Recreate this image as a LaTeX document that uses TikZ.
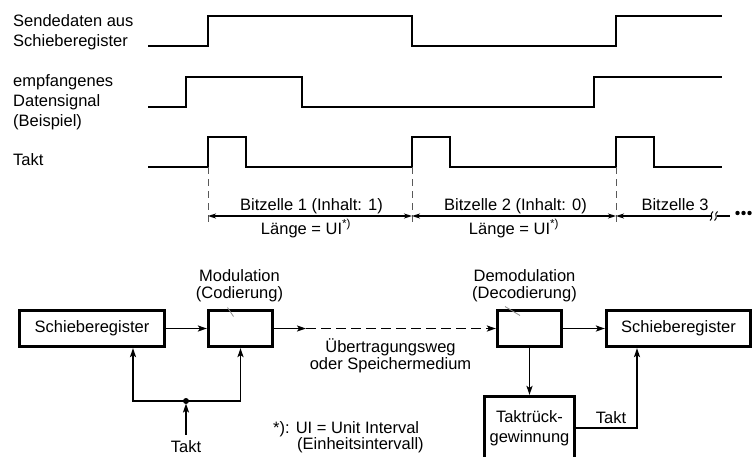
\documentclass[tikz,border=0pt]{standalone}
\usepackage{fontspec}
\setmainfont{Liberation Sans}
\usetikzlibrary{arrows.meta}
\newcommand\lblfont{\fontsize{16.5}{20}\selectfont}
\newcommand\lblfontnarrow{\fontsize{16.5}{17.5}\selectfont}

\begin{document}
\begin{tikzpicture}[x=1pt,y=-1pt,
  dimtip/.tip={Stealth[length=8pt,width=5pt,inset=2.5pt]},
  contip/.tip={Stealth[length=9pt,width=6pt,inset=2pt]},
  txt/.style={font=\lblfont, inner sep=0pt},
  sig/.style={line width=2.4pt, line join=miter},
  cellmark/.style={black!65, line width=1pt, dash pattern=on 7pt off 5pt},
  dimline/.style={line width=1.2pt},
  blk/.style={draw, line width=3.2pt, font=\lblfont, inner sep=0pt, minimum height=36pt},
  conn/.style={line width=1.6pt, -contip},
  leader/.style={black!45, line width=0.8pt}
]
\clip (0,0) rectangle (754,456);

% ---------------- timing diagram ----------------
\node[txt, align=left, anchor=north west] (l1) at (13,14.5) {Sendedaten aus\\Schieberegister};
\node[txt, align=left, anchor=north west] (l2) at (13,74) {empfangenes\\Datensignal\\(Beispiel)};
\node[txt, anchor=north west] (l3) at (13,153) {Takt};

% transmitted data
\draw[sig] (148,46) -- (208,46) -- (208,16) -- (412,16) -- (412,46)
  -- (616,46) -- (616,16) -- (722,16);
% received signal
\draw[sig] (148,107) -- (186,107) -- (186,77) -- (302,77) -- (302,107)
  -- (594,107) -- (594,77) -- (722,77);
% clock
\draw[sig] (148,167) -- (208,167) -- (208,137) -- (246,137) -- (246,167)
  -- (412,167) -- (412,137) -- (450,137) -- (450,167)
  -- (616,167) -- (616,137) -- (654,137) -- (654,167) -- (722,167);

% bit cell boundaries
\coordinate (b1) at (208,216);
\coordinate (b2) at (412,216);
\coordinate (b3) at (616,216);
\coordinate (b4) at (712,216);
\coordinate (b5) at (716.5,216);
\coordinate (b6) at (730,216);
\foreach \x in {208,412,616}
  \draw[cellmark] (\x,167) -- (\x,222);

\draw[dimline, dimtip-dimtip] (b1) -- (b2);
\draw[dimline, dimtip-dimtip] (b2) -- (b3);
\draw[dimline, dimtip-] (b3) -- (b4);
\draw[dimline] (b5) -- (b6);
\foreach \x in {711.5,716}
  \draw[line width=1pt] (\x-1.5,220.5) .. controls (\x+2.5,218) and (\x-2.5,214) .. (\x+1.5,211.5);
\foreach \x in {737.5,743.5,749.5}
  \fill (\x,213) circle (2.2pt);

\node[txt, anchor=base] (c1) at (311.5,210) {Bitzelle 1 (Inhalt: 1)};
\node[txt, anchor=base] (c2) at (515.5,210) {Bitzelle 2 (Inhalt: 0)};
\node[txt, anchor=base] (c3) at (675,210) {Bitzelle 3};
\node[txt, anchor=base] (u1) at (306,234) {Länge = UI\textsuperscript{*)}};
\node[txt, anchor=base] (u2) at (514,234) {Länge = UI\textsuperscript{*)}};

% ---------------- block diagram ----------------
\node[blk, minimum width=145pt] (sr1) at (92,328.5) {Schieberegister};
\node[blk, minimum width=64pt] (mod) at (240.5,328.5) {};
\node[blk, minimum width=64pt] (demod) at (529.5,328.5) {};
\node[blk, minimum width=144pt] (sr2) at (678.5,328.5) {Schieberegister};
\node[blk, align=center, minimum width=90pt, minimum height=63pt] (trg) at (529.5,428) {Taktrück-\\gewinnung};

\node[txt, font=\lblfontnarrow, align=center, anchor=north] (modlbl) at (239.5,269) {Modulation\\(Codierung)};
\node[txt, font=\lblfontnarrow, align=center, anchor=north] (demodlbl) at (524.5,269) {Demodulation\\(Decodierung)};
\draw[leader] (227.5,307.5) -- (233.5,316.5);
\draw[leader] (505,306.5) -- (520,315.5);

\coordinate (chan) at (306,328.5);
\draw[conn] (sr1) -- (mod);
\draw[conn] (mod) -- (chan);
\draw[conn, dash pattern=on 10pt off 5pt] (chan) -- (demod);
\node[txt, font=\lblfontnarrow, align=center, anchor=north] (chanlbl) at (390.5,338) {Übertragungsweg\\oder Speichermedium};

\draw[conn] (demod) -- (sr2);
\draw[conn] (demod) -- (trg);
\draw[conn] (trg.east) -| ([xshift=-41.5pt]sr2.south);
\node[txt, anchor=base] (tk2) at (611,423) {Takt};

% clock distribution on the transmit side
\coordinate (j) at (186,401);
\draw[conn] (j) -| ([xshift=41pt]sr1.south);
\draw[conn] (j) -| (mod.south);
\node[txt, anchor=base] (tk1) at (186,452) {Takt};
\draw[conn] ([yshift=5pt]tk1.north) -- ([yshift=-2.5pt]j);
\fill (j) circle (3pt);

\node[txt, font=\fontsize{16.5}{16.5}\selectfont, align=left, anchor=north west] (fn) at (273,421)
  {*): UI = Unit Interval\\\hspace*{24pt}(Einheitsintervall)};
\end{tikzpicture}
\end{document}
